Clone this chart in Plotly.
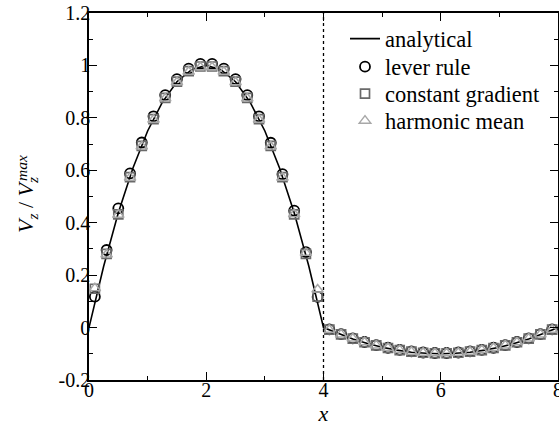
import plotly.graph_objects as go

# ---- data ----
ana_x = [0, 0.25, 0.5, 0.75, 1.0, 1.25, 1.5, 1.75, 2.0, 2.25, 2.5, 2.75, 3.0, 3.25, 3.5, 3.75, 4.0,
         4.25, 4.5, 4.75, 5.0, 5.25, 5.5, 5.75, 6.0, 6.25, 6.5, 6.75, 7.0, 7.25, 7.5, 7.75, 8.0]
ana_y = [0.0, 0.234, 0.438, 0.609, 0.750, 0.859, 0.938, 0.984, 1.000, 0.984, 0.938, 0.859, 0.750, 0.609, 0.438, 0.234, 0.0,
         -0.023, -0.044, -0.061, -0.075, -0.086, -0.094, -0.098, -0.100, -0.098, -0.094, -0.086, -0.075, -0.061, -0.044, -0.023, 0.0]

pts_x = [0.1, 0.3, 0.5, 0.7, 0.9, 1.1, 1.3, 1.5, 1.7, 1.9, 2.1, 2.3, 2.5, 2.7, 2.9, 3.1, 3.3, 3.5, 3.7, 3.9,
         4.1, 4.3, 4.5, 4.7, 4.9, 5.1, 5.3, 5.5, 5.7, 5.9, 6.1, 6.3, 6.5, 6.7, 6.9, 7.1, 7.3, 7.5, 7.7, 7.9]

lever_rule = [0.118, 0.296, 0.455, 0.588, 0.706, 0.806, 0.887, 0.948, 0.988, 1.006,
              1.006, 0.988, 0.948, 0.887, 0.806, 0.705, 0.585, 0.446, 0.288, 0.117,
              -0.007, -0.025, -0.041, -0.055, -0.067, -0.077, -0.085, -0.091, -0.095, -0.097,
              -0.097, -0.095, -0.091, -0.085, -0.077, -0.067, -0.055, -0.041, -0.025, -0.007]
constant_gradient = [0.148, 0.281, 0.432, 0.574, 0.693, 0.795, 0.876, 0.938, 0.978, 0.996,
                     0.996, 0.978, 0.938, 0.876, 0.795, 0.693, 0.574, 0.432, 0.281, 0.118,
                     -0.008, -0.026, -0.042, -0.056, -0.068, -0.078, -0.086, -0.092, -0.096, -0.098,
                     -0.098, -0.096, -0.092, -0.086, -0.078, -0.068, -0.056, -0.042, -0.026, -0.008]
harmonic_mean = [0.150, 0.279, 0.430, 0.572, 0.691, 0.793, 0.874, 0.936, 0.976, 0.993,
                 0.993, 0.976, 0.936, 0.874, 0.793, 0.691, 0.572, 0.432, 0.285, 0.145,
                 -0.008, -0.026, -0.042, -0.056, -0.068, -0.078, -0.086, -0.092, -0.096, -0.098,
                 -0.098, -0.096, -0.092, -0.086, -0.078, -0.068, -0.056, -0.042, -0.026, -0.008]

interface_x = 4
x_ticks = [0, 2, 4, 6, 8]
x_ticktext = ["0", "2", "4", "6", "8"]
y_ticks = [-0.2, 0, 0.2, 0.4, 0.6, 0.8, 1.0, 1.2]
y_ticktext = ["-0.2", "0", "0.2", "0.4", "0.6", "0.8", "1", "1.2"]

FONT = "Liberation Serif, Times New Roman, serif"

W, H = 559, 427
ML, MR, MT, MB = 89, 1, 13, 47
PH = H - MT - MB
PW = W - ML - MR


def py2paper(py):
    return (H - MB - py) / PH


def px2paper(px):
    return (px - ML) / PW


fig = go.Figure()
fig.add_trace(go.Scatter(x=ana_x, y=ana_y, mode="lines", name="analytical", legend="legend",
                         line=dict(color="black", width=1.6)))
fig.add_trace(go.Scatter(x=pts_x, y=lever_rule, mode="markers", name="lever rule", legend="legend2",
                         marker=dict(symbol="circle-open", size=10, color="black",
                                     line=dict(width=1.8, color="black"))))
fig.add_trace(go.Scatter(x=pts_x, y=constant_gradient, mode="markers", name="constant gradient",
                         legend="legend3",
                         marker=dict(symbol="square-open", size=9, color="#6a6a6a",
                                     line=dict(width=1.7, color="#6a6a6a"))))
fig.add_trace(go.Scatter(x=pts_x, y=harmonic_mean, mode="markers", name="harmonic mean",
                         legend="legend4",
                         marker=dict(symbol="triangle-up-open", size=10, color="#a8a8a8",
                                     line=dict(width=1.5, color="#a8a8a8"))))

fig.add_shape(type="line", x0=interface_x, x1=interface_x, y0=-0.2, y1=1.2,
              xref="x", yref="y", line=dict(color="black", width=1.3, dash="dot"))

axis_common = dict(showline=True, linecolor="black", linewidth=1.6, mirror="ticks",
                   ticks="inside", ticklen=8, tickwidth=1.4, tickcolor="black",
                   showgrid=False, zeroline=False, automargin=False,
                   ticklabeloverflow="allow",
                   tickfont=dict(family=FONT, size=20, color="black"))

fig.update_xaxes(range=[0, 8], tickvals=x_ticks, ticktext=x_ticktext, ticklabelstandoff=-9,
                 minor=dict(dtick=1, ticks="inside", ticklen=4, tickwidth=1.2, tickcolor="black",
                            showgrid=False),
                 title=dict(text="<i>x</i>", font=dict(family=FONT, size=22, color="black"), standoff=4),
                 **axis_common)
fig.update_yaxes(range=[-0.2, 1.2], tickvals=y_ticks, ticktext=y_ticktext, ticklabelstandoff=-7,
                 minor=dict(dtick=0.1, tick0=0, ticks="inside", ticklen=4, tickwidth=1.2,
                            tickcolor="black", showgrid=False),
                 **axis_common)

# y-axis title: V_z / V_z with "max" stacked above the second subscript
fig.add_annotation(text="<i>V<sub>z</sub></i> / <i>V<sub>z</sub></i>",
                   xref="paper", yref="paper", x=px2paper(27), y=py2paper(205),
                   xanchor="center", yanchor="middle",
                   textangle=-90, showarrow=False,
                   font=dict(family=FONT, size=22, color="black"))
fig.add_annotation(text="<i>max</i>",
                   xref="paper", yref="paper", x=px2paper(21), y=py2paper(168),
                   xanchor="center", yanchor="middle",
                   textangle=-90, showarrow=False,
                   font=dict(family=FONT, size=15.5, color="black"))

leg_common = dict(x=px2paper(345), xanchor="left", yanchor="middle",
                  bgcolor="rgba(0,0,0,0)", borderwidth=0,
                  font=dict(family=FONT, size=22.5, color="black"), itemwidth=30)

fig.update_layout(
    width=W, height=H,
    margin=dict(l=ML, r=MR, t=MT, b=MB),
    paper_bgcolor="white", plot_bgcolor="white",
    showlegend=True,
    legend=dict(y=py2paper(39), **leg_common),
    legend2=dict(y=py2paper(67), **leg_common),
    legend3=dict(y=py2paper(94), **leg_common),
    legend4=dict(y=py2paper(121), **leg_common),
    font=dict(family=FONT, color="black"),
)

fig.write_html("out.html", config={"displayModeBar": False},
               post_script="document.body.style.margin='0';document.body.style.overflow='hidden';")
